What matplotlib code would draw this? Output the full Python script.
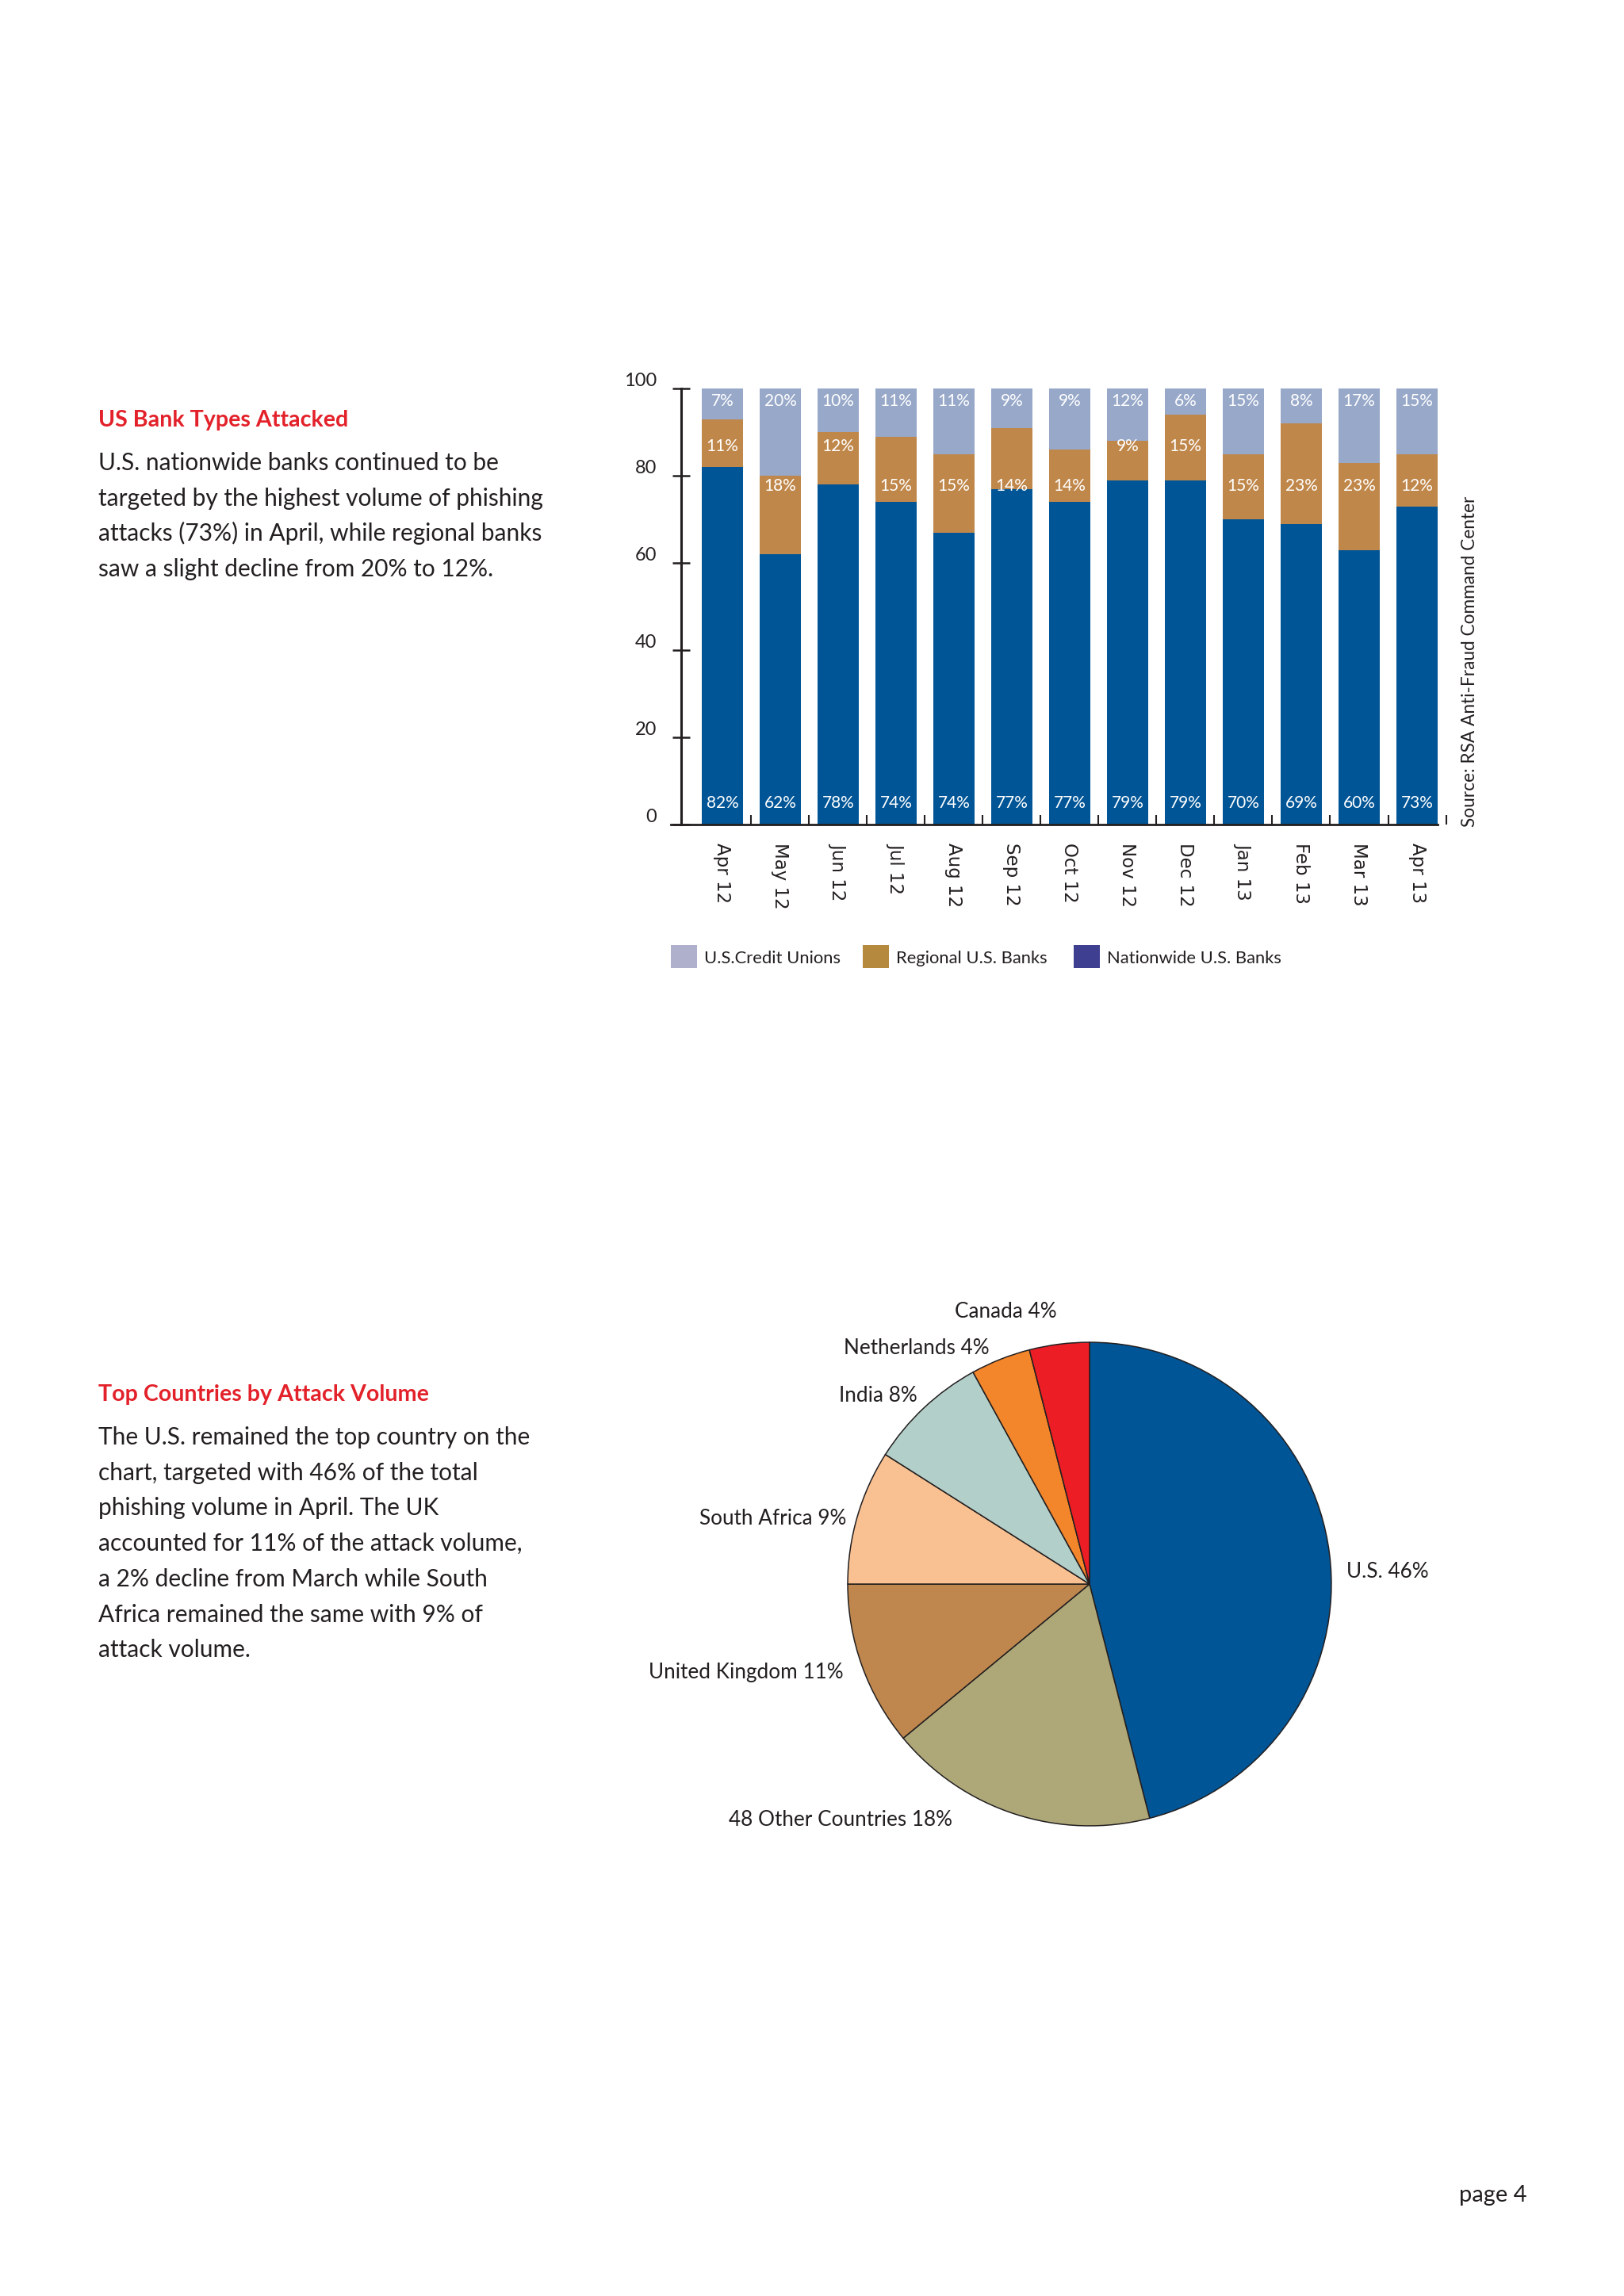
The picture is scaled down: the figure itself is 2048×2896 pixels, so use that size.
import matplotlib
matplotlib.use("Agg")
import matplotlib.pyplot as plt
import numpy as np
from matplotlib.patches import Rectangle

W, H, DPI = 2048, 2896, 100
FONT = ["Lato", "DejaVu Sans"]
TEXT = "#231f20"
RED = "#e3212a"

# --- US bank types chart (segment heights as drawn, labels as printed) ---
months = ["Apr 12", "May 12", "Jun 12", "Jul 12", "Aug 12", "Sep 12", "Oct 12",
          "Nov 12", "Dec 12", "Jan 13", "Feb 13", "Mar 13", "Apr 13"]
nationwide = [82, 62, 78, 74, 67, 77, 74, 79, 79, 70, 69, 63, 73]
regional = [11, 18, 12, 15, 18, 14, 12, 9, 15, 15, 23, 20, 12]
credit_unions = [7, 20, 10, 11, 15, 9, 14, 12, 6, 15, 8, 17, 15]

nationwide_lbl = [82, 62, 78, 74, 74, 77, 77, 79, 79, 70, 69, 60, 73]
regional_lbl = [11, 18, 12, 15, 15, 14, 14, 9, 15, 15, 23, 23, 12]
credit_lbl = [7, 20, 10, 11, 11, 9, 9, 12, 6, 15, 8, 17, 15]

legend_names = ["U.S.Credit Unions", "Regional U.S. Banks", "Nationwide U.S. Banks"]

# --- top countries pie ---
countries = ["U.S.", "48 Other Countries", "United Kingdom", "South Africa",
             "India", "Netherlands", "Canada"]
shares = [46, 18, 11, 9, 8, 4, 4]

BLUE, ORANGE, LIGHT = "#005596", "#c0874a", "#97a8c9"
legend_colors = ["#aeb0cc", "#b68a3e", "#3f3f92"]
pie_colors = ["#005596", "#aea879", "#bf874d", "#f9c192", "#b3cfc9", "#f3862a", "#ec1d24"]

s1_title = "US Bank Types Attacked"
s1_lines = ["U.S. nationwide banks continued to be",
            "targeted by the highest volume of phishing",
            "attacks (73%) in April, while regional banks",
            "saw a slight decline from 20% to 12%."]
s2_title = "Top Countries by Attack Volume"
s2_lines = ["The U.S. remained the top country on the",
            "chart, targeted with 46% of the total",
            "phishing volume in April. The UK",
            "accounted for 11% of the attack volume,",
            "a 2% decline from March while South",
            "Africa remained the same with 9% of",
            "attack volume."]


def fx(x):
    return x / W


def fy(y):
    return 1 - y / H


fig = plt.figure(figsize=(W / DPI, H / DPI), dpi=DPI)
fig.patch.set_facecolor("white")

# left column text
fig.text(fx(124), fy(538), s1_title, color=RED, fontsize=20.6, fontweight="bold",
         family=FONT, va="baseline")
for k, line in enumerate(s1_lines):
    fig.text(fx(124), fy(593 + 44.6 * k), line, color=TEXT, fontsize=21.5,
             family=FONT, va="baseline")
fig.text(fx(124), fy(1767), s2_title, color=RED, fontsize=20.6, fontweight="bold",
         family=FONT, va="baseline")
for k, line in enumerate(s2_lines):
    fig.text(fx(124), fy(1822 + 44.7 * k), line, color=TEXT, fontsize=21.5,
             family=FONT, va="baseline")

# stacked bars
ax = fig.add_axes([fx(846), fy(1040), (1830 - 846) / W, 550 / H])
x = np.arange(len(months))
nat = np.array(nationwide)
reg = np.array(regional)
cu = np.array(credit_unions)
bw = 0.712
ax.bar(x, nat, width=bw, color=BLUE, linewidth=0)
ax.bar(x, reg, bottom=nat, width=bw, color=ORANGE, linewidth=0)
ax.bar(x, cu, bottom=nat + reg, width=bw, color=LIGHT, linewidth=0)
ax.set_xlim(-0.89, 12.589)
ax.set_ylim(0, 100)
ax.set_facecolor("none")

for s in ["top", "right"]:
    ax.spines[s].set_visible(False)
ax.spines["left"].set_position(("data", -bw))
ax.spines["left"].set_linewidth(2.2)
ax.spines["left"].set_color(TEXT)
ax.spines["bottom"].set_bounds(-0.89, 12 + bw / 2)
ax.spines["bottom"].set_linewidth(2.0)
ax.spines["bottom"].set_color(TEXT)

yt = [0, 20, 40, 60, 80, 100]
ax.set_yticks(yt, labels=[""] * len(yt))
ax.tick_params(axis="y", direction="inout", length=16.5, width=1.8, color=TEXT)
for v in yt:
    ax.annotate(str(v), xy=(-bw, v), xytext=(-22.3, 2.5), textcoords="offset points",
                ha="right", va="baseline", fontsize=17, color=TEXT, family=FONT)

ax.set_xticks(x, labels=months, rotation=-90, fontsize=16.5, color=TEXT,
              family="DejaVu Sans")
ax.tick_params(axis="x", which="major", length=0, pad=16.5)
ax.set_xticks(x + 0.5, minor=True)
ax.tick_params(axis="x", which="minor", direction="in", length=9, width=1.5, color=TEXT)

for i in x:
    ax.text(i, 3.84, f"{nationwide_lbl[i]}%", ha="center", va="baseline",
            color="white", fontsize=15, family=FONT)
    ry = 85.7 if nationwide[i] >= 78 else 76.5
    ax.text(i, ry, f"{regional_lbl[i]}%", ha="center", va="baseline",
            color="white", fontsize=15, family=FONT)
    ax.text(i, 96.05, f"{credit_lbl[i]}%", ha="center", va="baseline",
            color="white", fontsize=15, family=FONT)

fig.text(fx(1860), fy(1043), "Source: RSA Anti-Fraud Command Center", rotation=90,
         rotation_mode="anchor", ha="left", va="baseline", fontsize=16.3,
         color=TEXT, family=FONT)

# legend
for name, col, x0 in zip(legend_names, legend_colors, [846, 1088, 1354]):
    fig.add_artist(Rectangle((fx(x0), fy(1221)), 33 / W, 29 / H,
                             transform=fig.transFigure, facecolor=col, edgecolor="none"))
    fig.text(fx(x0 + 42), fy(1215), name, fontsize=15.8, color=TEXT,
             family=FONT, va="baseline")

# pie
half = 320.2
pax = fig.add_axes([fx(1374 - half), fy(1998 + half), 2 * half / W, 2 * half / H])
pax.pie(shares, colors=pie_colors, startangle=90, counterclock=False,
        wedgeprops=dict(edgecolor=TEXT, linewidth=1.1))
pax.set_xlim(-1.05, 1.05)
pax.set_ylim(-1.05, 1.05)
pax.set_aspect("equal")

pie_label_pos = {
    "U.S.": (1698, 1990, "left"),
    "48 Other Countries": (1201, 2303, "right"),
    "United Kingdom": (1064, 2117, "right"),
    "South Africa": (1067, 1923, "right"),
    "India": (1157, 1768, "right"),
    "Netherlands": (1248, 1708, "right"),
    "Canada": (1333, 1662, "right"),
}
for name, share in zip(countries, shares):
    px, py, ha = pie_label_pos[name]
    fig.text(fx(px), fy(py), f"{name} {share}%", ha=ha, va="baseline",
             fontsize=18.8, color=TEXT, family=FONT)

fig.text(fx(1925), fy(2777), "page 4", ha="right", va="baseline", fontsize=20.9,
         color=TEXT, family=FONT)

fig.savefig("out.png", dpi=DPI)
